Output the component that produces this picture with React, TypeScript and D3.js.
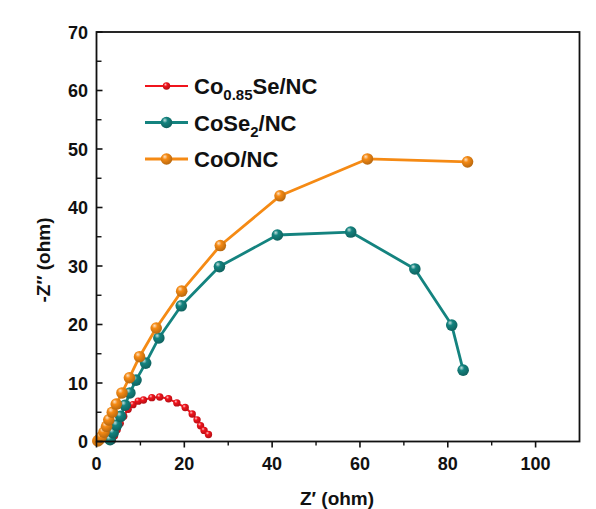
import React from "react";
import * as d3 from "d3";

const seriesNames = ["Co0.85Se/NC", "CoSe2/NC", "CoO/NC"];
const seriesColors = ["#f0141c", "#14837f", "#f58a14"];

const redX = [3.6, 4.1, 4.7, 5.4, 6.2, 7.2, 8.3, 9.5, 10.7, 12.6, 14.4, 16.4, 18.3, 20.2, 21.8, 22.9, 23.7, 24.5, 25.5];
const redY = [0.2, 1.0, 2.0, 3.1, 4.3, 5.5, 6.3, 6.9, 7.1, 7.5, 7.6, 7.3, 6.6, 5.8, 4.7, 3.7, 2.7, 1.9, 1.2];

const tealX = [3.1, 3.8, 4.6, 5.5, 6.5, 7.6, 9.0, 11.2, 14.2, 19.3, 28.0, 41.2, 57.9, 72.5, 80.9, 83.5];
const tealY = [0.3, 1.5, 2.8, 4.3, 6.2, 8.3, 10.5, 13.4, 17.7, 23.2, 29.9, 35.3, 35.8, 29.5, 19.9, 12.2];

const orangeX = [0.3, 0.6, 1.1, 1.7, 2.3, 2.8, 3.6, 4.5, 5.8, 7.5, 9.8, 13.6, 19.4, 28.2, 41.8, 61.7, 84.5];
const orangeY = [0.1, 0.3, 0.8, 1.6, 2.6, 3.7, 5.0, 6.4, 8.3, 10.9, 14.5, 19.4, 25.7, 33.5, 42.0, 48.3, 47.8];

const xTicks = [0, 20, 40, 60, 80, 100];
const xMinor = [10, 30, 50, 70, 90];
const yTicks = [0, 10, 20, 30, 40, 50, 60, 70];
const yMinor = [5, 15, 25, 35, 45, 55, 65];

const W = 596, H = 509;
const left = 96.5, right = 579.5, top = 32, bottom = 441.5;

export default function App() {
  const x = d3.scaleLinear().domain([0, 110]).range([left, right]);
  const y = d3.scaleLinear().domain([0, 70]).range([bottom, top]);
  const line = d3.line<[number, number]>().x(d => x(d[0])).y(d => y(d[1]));

  const series = [
    { xs: redX, ys: redY, r: 3.7, lw: 2 },
    { xs: tealX, ys: tealY, r: 5.8, lw: 2.8 },
    { xs: orangeX, ys: orangeY, r: 5.8, lw: 2.8 },
  ];

  const font = "'Liberation Sans', Arial, sans-serif";
  const legendY = [86, 122.5, 159];

  return (
    <svg width={W} height={H} style={{ position: "absolute", left: 0, top: 0, background: "#fff" }} fontFamily={font}>
      <defs>
        {seriesColors.map((c, i) => {
          const base = d3.color(c)!;
          return (
            <radialGradient key={i} id={`g${i}`} cx="0.4" cy="0.35" r="0.65" fx="0.35" fy="0.3">
              <stop offset="0" stopColor={d3.interpolateRgb(c, "#fff")(0.75)} />
              <stop offset="0.35" stopColor={c} />
              <stop offset="1" stopColor={base.darker(0.8).formatHex()} />
            </radialGradient>
          );
        })}
      </defs>
      <rect width={W} height={H} fill="#fff" />
      {/* data */}
      {series.map((s, i) => {
        const pts: [number, number][] = s.xs.map((v, k) => [v, s.ys[k]]);
        return (
          <g key={i}>
            <path d={line(pts)!} fill="none" stroke={seriesColors[i]} strokeWidth={s.lw} strokeLinejoin="round" />
            {pts.map((p, k) => (
              <circle key={k} cx={x(p[0])} cy={y(p[1])} r={s.r} fill={`url(#g${i})`} />
            ))}
          </g>
        );
      })}
      {/* frame */}
      <rect x={left} y={top} width={right - left} height={bottom - top} fill="none" stroke="#111" strokeWidth={1.8} />
      {/* x ticks */}
      {xTicks.map(t => (
        <g key={t}>
          <line x1={x(t)} x2={x(t)} y1={bottom} y2={bottom + 6} stroke="#111" strokeWidth={1.6} />
          <text x={x(t)} y={470} textAnchor="middle" fontSize={18} fontWeight="bold" fill="#111">{t}</text>
        </g>
      ))}
      {xMinor.map(t => (
        <line key={t} x1={x(t)} x2={x(t)} y1={bottom} y2={bottom + 4} stroke="#111" strokeWidth={1.4} />
      ))}
      {/* y ticks */}
      {yTicks.map(t => (
        <g key={t}>
          <line x1={left} x2={left + 6} y1={y(t)} y2={y(t)} stroke="#111" strokeWidth={1.6} />
          <text x={88} y={y(t) + 6.5} textAnchor="end" fontSize={18} fontWeight="bold" fill="#111">{t}</text>
        </g>
      ))}
      {yMinor.map(t => (
        <line key={t} x1={left} x2={left + 5} y1={y(t)} y2={y(t)} stroke="#111" strokeWidth={1.4} />
      ))}
      {/* axis titles */}
      <text x={337} y={505} textAnchor="middle" fontSize={19} fontWeight="bold" fill="#111">Z′ (ohm)</text>
      <text transform={`translate(50, 260) rotate(-90)`} textAnchor="middle" fontSize={19} fontWeight="bold" fill="#111">-Z″ (ohm)</text>
      {/* legend */}
      {series.map((s, i) => (
        <g key={i}>
          <line x1={145} x2={188} y1={legendY[i]} y2={legendY[i]} stroke={seriesColors[i]} strokeWidth={s.lw} />
          <circle cx={166.5} cy={legendY[i]} r={s.r} fill={`url(#g${i})`} />
        </g>
      ))}
      <text x={194} y={legendY[0] + 8} fontSize={22} fontWeight="bold" fill="#111">
        Co<tspan fontSize={15} dy={6}>0.85</tspan><tspan dy={-6}>Se/NC</tspan>
      </text>
      <text x={194} y={legendY[1] + 8} fontSize={22} fontWeight="bold" fill="#111">
        CoSe<tspan fontSize={15} dy={6}>2</tspan><tspan dy={-6}>/NC</tspan>
      </text>
      <text x={194} y={legendY[2] + 8} fontSize={22} fontWeight="bold" fill="#111">CoO/NC</text>
    </svg>
  );
}
